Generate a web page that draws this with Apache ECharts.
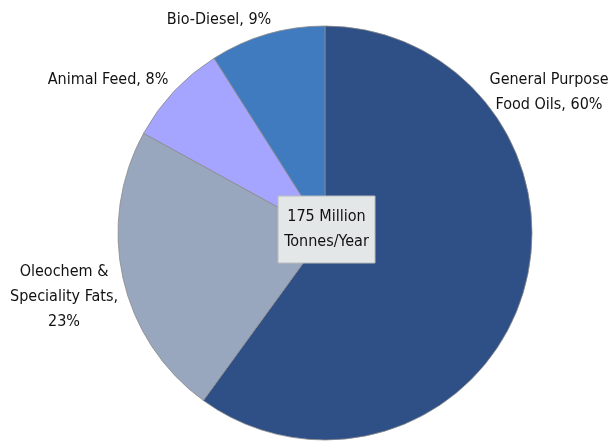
<!DOCTYPE html>
<html><head><meta charset="utf-8">
<script src="https://cdn.jsdelivr.net/npm/echarts@6/dist/echarts.min.js"></script>
<style>html,body{margin:0;padding:0;background:#fff}#c{width:609px;height:442px}</style>
</head><body><div id="c"></div>
<script>
const categories = ['General Purpose Food Oils', 'Oleochem & Speciality Fats', 'Animal Feed', 'Bio-Diesel'];
const labelTexts = ['General Purpose\nFood Oils, 60%', 'Oleochem &\nSpeciality Fats,\n23%', 'Animal Feed, 8%', 'Bio-Diesel, 9%'];
const values = [60, 23, 8, 9];
const colors = ['#2F4F87', '#98A7BE', '#A5A5FF', '#417BBF'];
const centerText = '175 Million\nTonnes/Year';
const labelPos = [[549, 92], [64, 297], [108, 80], [219, 20]];
const FONT = '"Liberation Sans Narrow","DejaVu Sans Condensed","Roboto",sans-serif';
const chart = echarts.init(document.getElementById('c'));
chart.setOption({
  animation: false,
  series: [{
    type: 'pie',
    center: [325, 233],
    radius: [0, 207],
    startAngle: 90,
    clockwise: true,
    avoidLabelOverlap: false,
    itemStyle: {borderColor: '#8a8a8a', borderWidth: 0.8},
    label: {
      show: true, position: 'outside', color: '#111', fontFamily: FONT, fontSize: 16,
      lineHeight: 25, align: 'center',
      formatter: p => labelTexts[p.dataIndex]
    },
    labelLine: {show: false},
    labelLayout: p => ({x: labelPos[p.dataIndex][0], y: labelPos[p.dataIndex][1], align: 'center', verticalAlign: 'middle'}),
    data: categories.map((c, i) => ({name: c, value: values[i], itemStyle: {color: colors[i]}}))
  }],
  graphic: [
    {type: 'rect', z: 100, shape: {x: 278, y: 196, width: 97, height: 67}, style: {fill: '#E3E7E7', stroke: '#b8bcbc', lineWidth: 1}},
    {type: 'text', z: 101, x: 326.5, y: 229.5, style: {text: centerText, fontFamily: FONT, fontSize: 16, lineHeight: 25, fill: '#111', align: 'center', verticalAlign: 'middle'}}
  ]
});
</script></body></html>
